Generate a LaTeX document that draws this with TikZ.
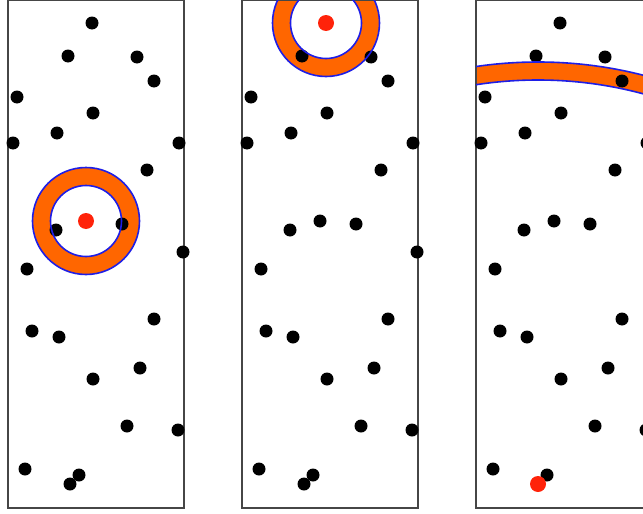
\documentclass[tikz,border=0pt]{standalone}
\usetikzlibrary{calc}
\definecolor{ringorange}{RGB}{255,102,0}
\definecolor{ringblue}{RGB}{30,30,230}
\definecolor{hitred}{RGB}{255,35,10}
\definecolor{framegray}{RGB}{70,70,70}

\tikzset{
  panelframe/.style={draw=framegray, line width=1.1pt},
  ringfill/.style={fill=ringorange, even odd rule},
  ringedge/.style={draw=ringblue, line width=1.6pt},
  sample/.style={fill=black},
  query/.style={fill=hitred}
}

% sample points, pixel coordinates inside the first panel
\def\samplelist{92/23, 68/56, 137/57, 154/81, 17/97, 93/113, 57/133, 13/143,
  179/143, 147/170, 56/230, 122/224, 86/221, 183/252, 27/269, 154/319,
  32/331, 59/337, 140/368, 93/379, 127/426, 178/430, 25/469, 79/475, 70/484}

\begin{document}
\begin{tikzpicture}[x=1pt, y=-1pt]
  \clip (0,0) rectangle (643,514);

  % one panel per query point: shift / query x / query y / inner radius
  \foreach \shift/\qx/\qy/\rin in {0/86/221/35.5, 234/92/23/35.5, 468/70/484/404}{
    \pgfmathsetmacro{\rout}{\rin+18}
    \begin{scope}[xshift=\shift pt]
      \coordinate (q) at (\qx,\qy);
      \begin{scope}
        \clip (8,0.5) rectangle (184,508);
        \path[ringfill] (q) circle[radius=\rout pt] (q) circle[radius=\rin pt];
      \end{scope}
      \draw[panelframe] (8,0.5) rectangle (184,508);
      \foreach \px/\py in \samplelist{
        \fill[sample] (\px,\py) circle[radius=6.5pt];
      }
      \begin{scope}
        \clip (8,0.5) rectangle (184,508);
        \draw[ringedge] (q) circle[radius=\rout pt] (q) circle[radius=\rin pt];
      \end{scope}
      \fill[query] (q) circle[radius=8pt];
    \end{scope}
  }
\end{tikzpicture}
\end{document}
